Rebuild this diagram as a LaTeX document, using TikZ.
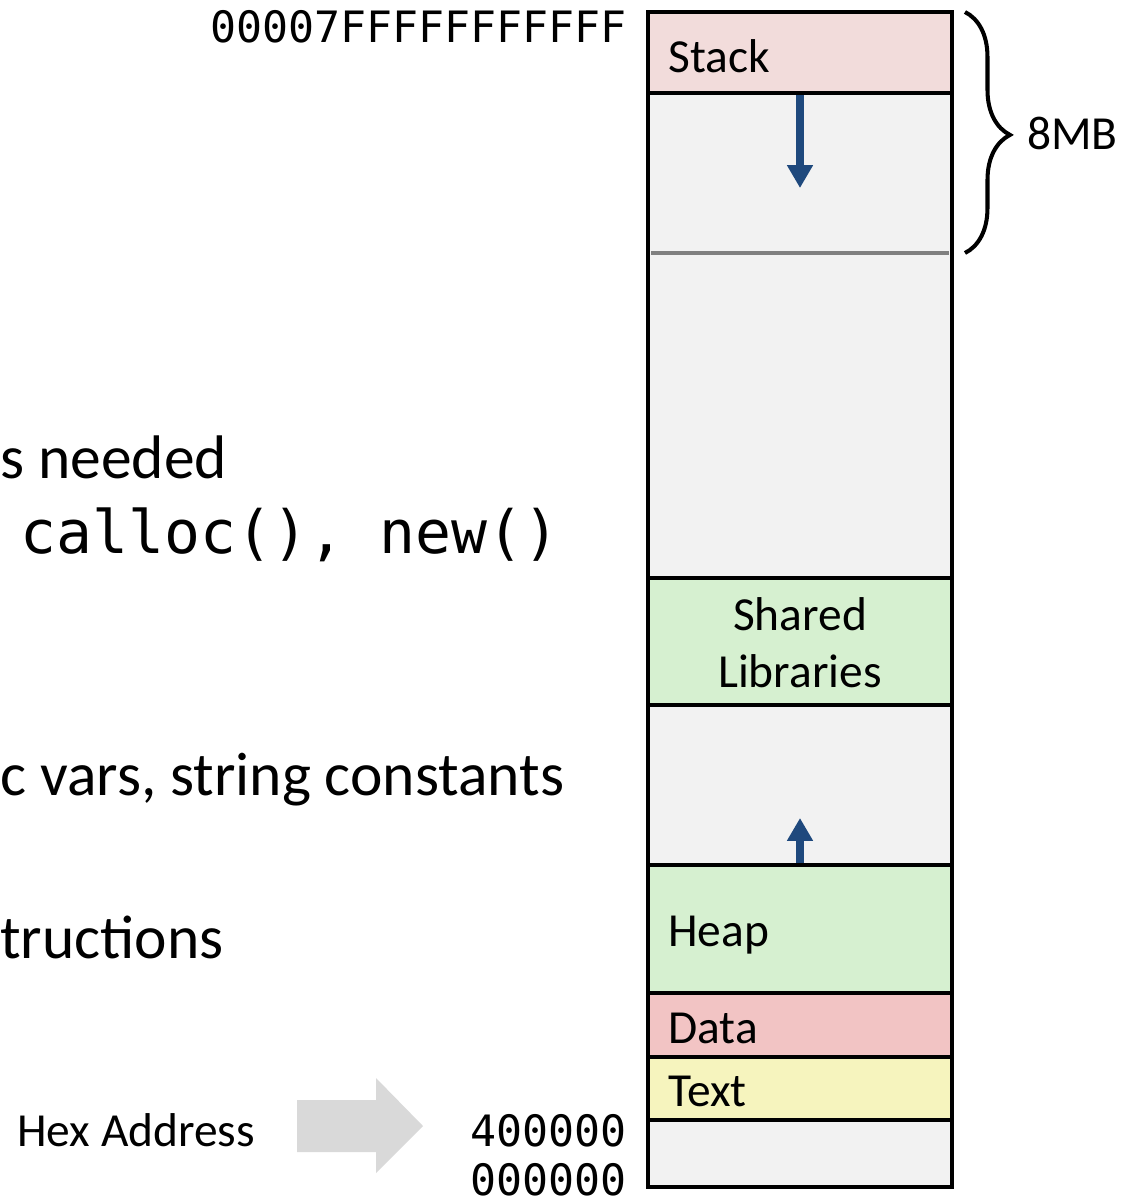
\documentclass[tikz,border=0pt]{standalone}
\usepackage{fontspec}
\setmainfont{Carlito}
\setmonofont{DejaVu Sans Mono}
\usetikzlibrary{arrows.meta,decorations.pathreplacing}

\definecolor{stackcol}{HTML}{F2DCDB}
\definecolor{freecol}{HTML}{F2F2F2}
\definecolor{libcol}{HTML}{D6F0D0}
\definecolor{datacol}{HTML}{F2C4C4}
\definecolor{textcol}{HTML}{F6F4BE}
\definecolor{growcol}{HTML}{1F497D}
\definecolor{hexcol}{HTML}{D9D9D9}

\begin{document}
\begin{tikzpicture}[
    x=0.02cm, y=-0.02cm,
    seg/.style={rectangle, draw, line width=2.8pt, minimum width={304*0.02cm}, inner sep=0pt},
    lbl/.style={font=\fontsize{27}{32}\selectfont, inner sep=0pt},
    big/.style={font=\fontsize{35}{42}\selectfont, inner sep=0pt},
    bigtt/.style={font=\ttfamily\fontsize{34}{40}\selectfont, inner sep=0pt},
    addr/.style={font=\ttfamily\fontsize{24.6}{30}\selectfont, inner sep=0pt},
    growarrow/.style={-{Triangle[length=13pt,width=14pt]}, line width=4.5pt, growcol}
]
\useasboundingbox (0,0) rectangle (1121,1198);

% Segmentos
\node[seg, fill=freecol,  minimum height={485*0.02cm}] (free1) at (800,335.5) {};
\node[seg, fill=stackcol, minimum height={81*0.02cm}]  (stack) at (800,52.5) {};
\node[seg, fill=libcol,   minimum height={127*0.02cm}] (shlib) at (800,641.5) {};
\node[seg, fill=freecol,  minimum height={160*0.02cm}] (free2) at (800,785) {};
\node[seg, fill=libcol,   minimum height={128*0.02cm}] (heap)  at (800,929) {};
\node[seg, fill=datacol,  minimum height={64*0.02cm}]  (data)  at (800,1025) {};
\node[seg, fill=textcol,  minimum height={63*0.02cm}]  (text)  at (800,1088.5) {};
\node[seg, fill=freecol,  minimum height={67*0.02cm}]  (free3) at (800,1153.5) {};

% Limite de la pila
\coordinate (limL) at (651,253);
\coordinate (limR) at (949,253);
\draw[line width=2.3pt, gray] (limL) -- (limR);

% Etiquetas
\node[lbl, anchor=base west] (stacklbl) at (668,72) {Stack};
\node[lbl, align=center, font=\fontsize{27}{32.3}\selectfont] (shliblbl) at (800,643) {Shared\\Libraries};
\node[lbl, anchor=base west] (heaplbl) at (668,946) {Heap};
\node[lbl, anchor=base west] (datalbl) at (668,1043) {Data};
\node[lbl, anchor=base west] (textlbl) at (668,1106) {Text};

% Direcciones
\node[addr, anchor=base east] (top)  at (627,42)   {00007FFFFFFFFFFF};
\node[addr, anchor=base east] (low)  at (627,1146) {400000};
\node[addr, anchor=base east] (zero) at (627,1195) {000000};

% Crecimiento
\coordinate (stackgrow) at (800,188);
\coordinate (heapgrow)  at (800,818);
\draw[growarrow] (stack.south) -- (stackgrow);
\draw[growarrow] (heap.north) -- (heapgrow);

% Llave 8MB
\coordinate (braceT) at (965,12);
\coordinate (braceB) at (965,253);
\draw[line width=2.3pt, decorate, decoration={brace, amplitude=0.9cm, aspect=0.51}] (braceT) -- (braceB);
\node[lbl, anchor=base west] (size) at (1027,149) {8MB};

% Texto cortado
\node[big, anchor=base west] (needed) at (0,478) {s needed};
\node[bigtt, anchor=base west] (alloc) at (20,553) {calloc(), new()};
\node[big, anchor=base west] (vars) at (0,795) {c vars, string constants};
\node[big, anchor=base west] (instr) at (0,958) {tructions};

% Hex
\node[lbl, anchor=base west] (hex) at (17,1146) {Hex Address};
\fill[hexcol] (297,1100) -- (376,1100) -- (376,1078) -- (423,1126) -- (376,1173) -- (376,1152) -- (297,1152) -- cycle;

\end{tikzpicture}
\end{document}
